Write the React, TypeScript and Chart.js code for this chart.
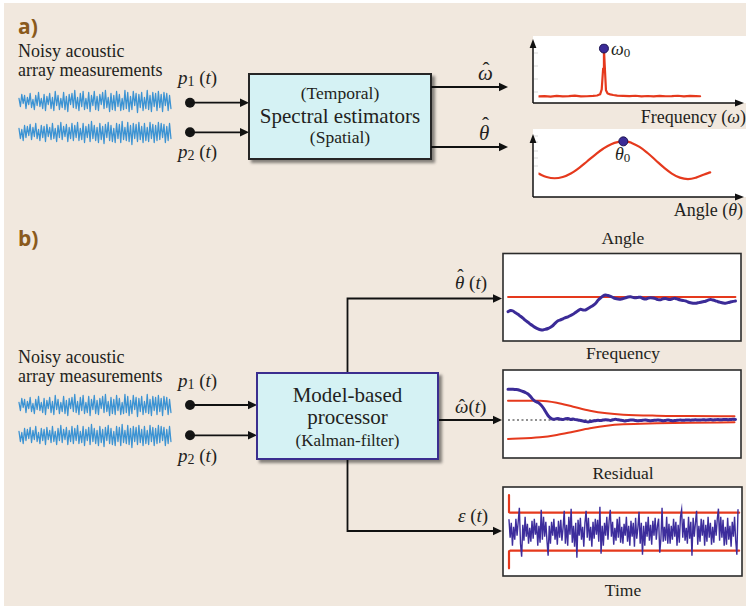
import React, { useEffect, useRef } from "react";
import { Chart, registerables } from "chart.js";

Chart.register(...registerables);

// ---------------- data ----------------

// Raw hydrophone pressure samples (arbitrary units), sensors 1 and 2
const pressureP1 = [
  3, -5, 7, -2, 6, -7, 4, -3, 8, -6,
  2, -8, 6, -4, 9, -5, 3, -7, 7, -9,
  5, -3, 8, -7, 4, -9, 10, -4, 6, -8,
  3, -6, 9, -8, 5, -10, 7, -3, 8, -6,
  11, -7, 4, -9, 8, -5, 10, -8, 3, -7,
  9, -10, 6, -4, 10, -8, 5, -9, 7, -3,
  9, -7, 11, -6, 4, -10, 8, -8, 6, -9,
  10, -5, 7, -9, 3, -8, 11, -7, 9, -10,
  5, -8, 10, -4, 8, -11, 7, -6, 9, -9,
  4, -7, 11, -8, 6, -10, 9, -5, 8, -9,
  10, -6, 7, -10, 9, -4, 8, -9, 6, -7,
];
const pressureP2 = [
  4, -6, 3, -8, 7, -5, 6, -3, 8, -7,
  5, -4, 9, -6, 3, -8, 7, -5, 6, -9,
  8, -4, 5, -7, 9, -6, 4, -9, 7, -5,
  10, -7, 6, -4, 8, -9, 5, -6, 9, -8,
  7, -5, 10, -8, 4, -7, 9, -10, 6, -5,
  8, -9, 11, -6, 7, -8, 5, -10, 9, -7,
  6, -11, 8, -5, 10, -8, 7, -9, 4, -10,
  9, -6, 8, -10, 11, -7, 5, -8, 10, -9,
  7, -12, 9, -6, 8, -9, 10, -7, 6, -10,
  9, -8, 5, -9, 10, -6, 8, -10, 7, -8,
  10, -7, 9, -5, 8, -10, 6, -8, 9, -6,
];

// Temporal power spectrum
const spectrumFreq = [
  0, 3, 6, 9, 12, 15, 18, 21, 24, 27, 29, 30.5, 31.3, 32, 32.4, 32.8, 33.4,
  34.2, 35.5, 37, 39, 42, 45, 48, 51, 54, 57, 60, 63, 66, 69, 72, 75, 78, 80,
];
const spectrumPower = [
  1.5, 1.8, 1.3, 2.2, 1.6, 1.9, 2.4, 1.5, 1.7, 2.1, 2.6, 4, 10, 35, 59, 38, 9,
  5, 4, 3.2, 2.5, 2.2, 1.8, 2.3, 1.6, 2, 1.5, 2.2, 1.7, 1.9, 2.3, 1.6, 2.1, 1.8,
  1.7,
];

// Spatial (beam) power versus steering angle
const beamAngle = [
  0, 4, 8, 12, 16, 20, 24, 28, 32, 36, 40, 42, 44, 46, 50, 54, 58, 62, 66, 70,
  74, 78, 82, 85,
];
const beamPower = [
  21.5, 17.5, 16, 17.5, 21.7, 28.2, 36, 44, 51.2, 56.7, 59.6, 60, 59.7, 58.3,
  53.4, 46.1, 37.5, 28.9, 21.6, 16.7, 15, 16.7, 20.5, 23,
];

// Kalman filter: bearing estimate against the true bearing
const angleTrue = 43;
const angleEstimate = [
  28.3, 29.5, 29, 27.2, 25.7, 23.7, 21.8, 19.6, 17.7, 15.7,
  14, 12.4, 11.1, 10.2, 10.1, 10.7, 11.5, 12.8, 14.5, 17.2,
  19.2, 20.2, 21.2, 22.4, 23.2, 24.5, 25.7, 27.5, 29.2, 30.7,
  30, 30, 31.5, 33, 34.5, 36.5, 39.7, 42, 44, 45,
  44.5, 43.7, 42.5, 41.5, 41, 40.8, 41.4, 42.2, 43, 43.2,
  42.6, 42.2, 42.6, 42.7, 41.5, 41, 41.8, 42.3, 42, 41.4,
  40.4, 40.2, 41.2, 41.6, 40.8, 40.6, 41.4, 41.6, 40.7, 40,
  39.5, 39.1, 38, 37.2, 36.8, 36.7, 37.2, 37.7, 38.3, 38.8,
  39.8, 40.6, 40, 39.2, 38.3, 37.6, 37, 36.7, 37.4, 38,
  38.6, 39,
];

// Kalman filter: frequency estimate with its confidence bounds
const freqTrue = 37;
const freqEstimate = [
  67.7, 67.7, 67.8, 67.5, 67.2, 66.4, 65.5, 64.4, 63, 60.5,
  57.5, 55.5, 54.5, 52.5, 49.5, 45.5, 41.5, 39, 37.7, 38,
  38.4, 37.8, 37.4, 38.2, 38.5, 37.6, 38, 37.4, 37, 36.5,
  36, 35.5, 35.1, 35.4, 36, 36.3, 36.7, 36.5, 36.9, 37.3,
  37.1, 36.6, 37.2, 37.7, 37.2, 36.8, 36.4, 36.1, 36.6, 36.9,
  37, 36.5, 36.2, 36.5, 36.8, 37, 36.6, 36.3, 36.5, 36.8,
  37, 36.7, 36.3, 36.6, 36.9, 36.5, 36.2, 36.6, 36.8, 37,
  36.7, 36.9, 37.1, 36.8, 37, 37.2, 36.9, 37, 37.3, 37,
  37.2, 37.4, 37.1, 37.3, 37.5, 37.2, 37.4, 37.6, 37.3, 37.5,
  37.7, 37.6,
];
const freqBoundTime = [0, 12.8, 19.5, 26.1, 32.8, 39.5, 46.1, 59.5, 72.8, 90.6];
const freqUpperBound = [56.3, 56.3, 54.3, 50.3, 46.3, 43.7, 42.3, 41.3, 41, 40.7];
const freqLowerBound = [18, 19.7, 22, 25.3, 28.7, 31.3, 32.7, 33.7, 34.3, 34.7];

// Innovation (residual) sequence with its confidence bounds
const residual = [
  12, -6, 9, -14, 5, -8, 13, -4, 10, 24,
  -12, -25, 7, -9, 15, -5, 8, -12, 4, -10,
  11, -7, 13, -3, 9, -14, 6, -11, 22, -8,
  15, -5, 10, -9, -24, 6, -12, 10, -4, 13,
  -8, 5, -13, 11, -6, 12, -9, 4, 21, -12,
  7, -14, 15, -3, 23, -11, 6, -15, 9, -26,
  12, -4, 14, -8, 5, -15, 9, 21, -6, 14,
  -9, 5, -15, 10, -7, 13, -3, 12, -10, 25,
  -22, 6, -14, 9, -4, 15, -8, 11, 22, -5,
  10, -13, 4, -9, 13, -6, 15, -11, 5, -12,
  8, -4, 15, -10, 6, -14, 11, -5, 9, -15,
  14, -7, 4, 20, -12, 9, -23, 6, -14, 10,
  -5, 15, -9, 7, -13, 11, -4, 14, -8, 6,
  13, -21, -7, 24, -10, 5, -9, 15, -12, 8,
  -12, 6, -8, 13, -5, 10, -14, 7, -11, 15,
  22, -6, 13, -9, 4, -12, 15, -7, 10, -24,
  14, -5, 9, 21, -13, 6, -10, 13, -4, 12,
  -14, 7, -10, 15, -6, 9, -13, 5, -11, 12,
  -4, 13, 23, -9, 15, -6, 12, -14, 5, -13,
  14, -8, 6, -15, 10, -5, 15, -9, -23, 22,
];
const residualBoundTime = [0, 0, 1, 200];
const residualUpper = [36.7, 19.5, 19, 19];
const residualLower = [-36.6, -19.5, -19, -19];

// ---------------- chart helpers ----------------

const RED = "#e5391d";
const INDIGO = "#3b2b97";
const SKY = "#3c93d3";
const INK = "#231f20";
const SERIF = '"Liberation Serif", "Times New Roman", Times, "DejaVu Serif", serif';
const SANS = '"Open Sans", "Liberation Sans", sans-serif';

type Pt = { x: number; y: number };
const zipPts = (xs: number[], ys: number[]): Pt[] => xs.map((x, i) => ({ x, y: ys[i] }));
const indexPts = (ys: number[]): Pt[] => ys.map((y, i) => ({ x: i, y }));
const flat = (value: number, from: number, to: number): Pt[] => [
  { x: from, y: value },
  { x: to, y: value },
];

function lineSet(data: Pt[], color: string, width: number, extra: any = {}) {
  return {
    data,
    borderColor: color,
    backgroundColor: color,
    borderWidth: width,
    pointRadius: 0,
    fill: false,
    tension: 0,
    borderJoinStyle: "round",
    borderCapStyle: "round",
    ...extra,
  };
}

function miniConfig(datasets: any[], x: [number, number], y: [number, number]): any {
  return {
    type: "line",
    data: { datasets },
    options: {
      responsive: false,
      maintainAspectRatio: false,
      animation: false,
      devicePixelRatio: 1,
      events: [],
      layout: { padding: 0 },
      plugins: { legend: { display: false }, tooltip: { enabled: false } },
      scales: {
        x: { type: "linear", display: false, min: x[0], max: x[1] },
        y: { type: "linear", display: false, min: y[0], max: y[1] },
      },
    },
  };
}

type Place = { left: number; top: number; width: number; height: number };

function MiniChart({ place, make }: { place: Place; make: () => any }) {
  const ref = useRef<HTMLCanvasElement | null>(null);
  useEffect(() => {
    if (!ref.current) return;
    const chart = new Chart(ref.current, make());
    return () => chart.destroy();
  }, []);
  return (
    <canvas
      ref={ref}
      width={place.width}
      height={place.height}
      style={{
        position: "absolute",
        left: place.left,
        top: place.top,
        width: place.width,
        height: place.height,
      }}
    />
  );
}

const peakDot = (x: number, y: number) =>
  lineSet([{ x, y }], INDIGO, 0, {
    showLine: false,
    pointRadius: 4.5,
    pointBackgroundColor: INDIGO,
    pointBorderColor: "#1d1450",
    pointBorderWidth: 1,
  });

// chart builders
const waveform = (samples: number[]) => () =>
  miniConfig([lineSet(indexPts(samples), SKY, 1.3)], [-0.72, 111.2], [-13.5, 13.5]);

const spectrumChart = () => {
  const peak = spectrumPower.indexOf(Math.max(...spectrumPower));
  return miniConfig(
    [
      peakDot(spectrumFreq[peak], spectrumPower[peak]),
      lineSet(zipPts(spectrumFreq, spectrumPower), RED, 2.2),
    ],
    [0, 100],
    [-1, 65]
  );
};

const beamChart = () => {
  const peak = beamPower.indexOf(Math.max(...beamPower));
  return miniConfig(
    [
      peakDot(beamAngle[peak], beamPower[peak]),
      lineSet(zipPts(beamAngle, beamPower), RED, 2.2, { tension: 0.4 }),
    ],
    [0, 100],
    [-1, 67]
  );
};

const angleChart = () =>
  miniConfig(
    [
      lineSet(indexPts(angleEstimate), INDIGO, 3, { tension: 0.3 }),
      lineSet(flat(angleTrue, 0, angleEstimate.length - 1), RED, 1.8),
    ],
    [-1.6, 92.8],
    [0, 85]
  );

const freqChart = () =>
  miniConfig(
    [
      lineSet(indexPts(freqEstimate), INDIGO, 3, { tension: 0.3 }),
      lineSet(flat(freqTrue, 0, freqEstimate.length - 1), "#222", 1.2, {
        borderDash: [2, 2.5],
        borderCapStyle: "butt",
      }),
      lineSet(zipPts(freqBoundTime, freqUpperBound), RED, 2, { cubicInterpolationMode: "monotone" }),
      lineSet(zipPts(freqBoundTime, freqLowerBound), RED, 2, { cubicInterpolationMode: "monotone" }),
    ],
    [-1.6, 92.8],
    [0, 86]
  );

const residualChart = () =>
  miniConfig(
    [
      lineSet(indexPts(residual), "#3d2d9c", 1.4, { borderJoinStyle: "miter" }),
      lineSet(zipPts(residualBoundTime, residualUpper), RED, 2.2),
      lineSet(zipPts(residualBoundTime, residualLower), RED, 2.2),
    ],
    [-4.34, 201.6],
    [-43.3, 42.7]
  );

// ---------------- diagram pieces ----------------

const head = (x: number, y: number) => `${x},${y} ${x - 9},${y - 4.2} ${x - 9},${y + 4.2}`;

function Arrow({ x1, x2, y }: { x1: number; x2: number; y: number }) {
  return (
    <g>
      <line x1={x1} y1={y} x2={x2 - 7} y2={y} stroke="#111" strokeWidth={1.8} />
      <polygon points={head(x2, y)} fill="#111" />
    </g>
  );
}

function PLabel({ x, y, n }: { x: number; y: number; n: string }) {
  return (
    <text x={x} y={y} fontSize={19} fill={INK}>
      <tspan fontStyle="italic">p</tspan>
      <tspan fontSize={14} dy={2}>{n}</tspan>
      <tspan dy={-2}> (</tspan>
      <tspan fontStyle="italic">t</tspan>
      <tspan>)</tspan>
    </text>
  );
}

// circumflex accent set over an estimate symbol
function Hat({ x, y, size }: { x: number; y: number; size: number }) {
  return (
    <text x={x} y={y} fontSize={size} fill={INK} textAnchor="middle">
      {"\u02c6"}
    </text>
  );
}

function Caption({ x, y, text }: { x: number; y: number; text: string }) {
  return (
    <text x={x} y={y} fontSize={17.5} fill={INK} textAnchor="middle">
      {text}
    </text>
  );
}

function Diagram() {
  const tickColor = "#d9d9d9";
  return (
    <svg width={749} height={609} style={{ position: "absolute", left: 0, top: 0, fontFamily: SERIF }}>
      <defs>
        <filter id="drop" x="-10%" y="-10%" width="130%" height="140%">
          <feDropShadow dx="3" dy="3" stdDeviation="1.6" floodColor="#000" floodOpacity="0.45" />
        </filter>
      </defs>
      <rect x={4} y={3} width={742} height={603} fill="#f1e8de" />

      {/* ---------- a) spectral estimation ---------- */}
      <text x={18} y={34} style={{ fontFamily: SANS }} fontWeight={700} fontSize={21} fill="#8a5a1c">
        a)
      </text>
      <text x={18} y={57} fontSize={18} fill={INK}>Noisy acoustic</text>
      <text x={18} y={75.5} fontSize={18} fill={INK}>array measurements</text>

      <PLabel x={178} y={84} n="1" />
      <PLabel x={178} y={158} n="2" />
      <circle cx={190} cy={102.7} r={5} fill="#151515" />
      <circle cx={190} cy={132.3} r={5} fill="#151515" />
      <Arrow x1={190} x2={249} y={102.7} />
      <Arrow x1={190} x2={249} y={132.3} />

      <rect x={249} y={74} width={182} height={85} fill="#d5f2f4" stroke="#262626" strokeWidth={2} filter="url(#drop)" />
      <text x={340} y={98.5} fontSize={17.5} fill={INK} textAnchor="middle">(Temporal)</text>
      <text x={340} y={122.5} fontSize={21} fill={INK} textAnchor="middle">Spectral estimators</text>
      <text x={340} y={143} fontSize={17.5} fill={INK} textAnchor="middle">(Spatial)</text>

      <Arrow x1={431} x2={508} y={87} />
      <Arrow x1={431} x2={508} y={147} />
      <text x={478} y={80} fontSize={21} fontStyle="italic" fill={INK}>{"\u03c9"}</text>
      <Hat x={486} y={76.5} size={21} />
      <text x={479} y={139.5} fontSize={21} fontStyle="italic" fill={INK}>{"\u03b8"}</text>
      <Hat x={485.5} y={131.5} size={21} />

      {/* spectrum panel */}
      <rect x={533} y={36} width={213} height={67} fill="#fff" />
      {[53, 66, 79, 92].map((y) => (
        <line key={y} x1={534} y1={y} x2={538} y2={y} stroke={tickColor} strokeWidth={1} />
      ))}
      <line x1={533} y1={103} x2={533} y2={46} stroke="#111" strokeWidth={1.5} />
      <polygon points="533,39 529.6,48 536.4,48" fill="#111" />
      <line x1={533} y1={103} x2={737} y2={103} stroke="#111" strokeWidth={1.5} />
      <polygon points="744,103 735,99.6 735,106.4" fill="#111" />
      <text x={611} y={55} fontSize={18} fill={INK}>
        <tspan fontStyle="italic">{"\u03c9"}</tspan>
        <tspan fontSize={13} dy={2}>0</tspan>
      </text>
      <text x={746} y={123} fontSize={18} fill={INK} textAnchor="end">
        Frequency (<tspan fontStyle="italic">{"\u03c9"}</tspan>)
      </text>

      {/* beam-pattern panel */}
      <rect x={533} y={129} width={213} height={68} fill="#fff" />
      {[136, 142, 151, 158, 166].map((y) => (
        <line key={y} x1={534} y1={y} x2={538} y2={y} stroke={tickColor} strokeWidth={1} />
      ))}
      <line x1={533} y1={197} x2={533} y2={141} stroke="#111" strokeWidth={1.5} />
      <polygon points="533,134 529.6,143 536.4,143" fill="#111" />
      <line x1={533} y1={197} x2={737} y2={197} stroke="#111" strokeWidth={1.5} />
      <polygon points="744,197 735,193.6 735,200.4" fill="#111" />
      <text x={615} y={160} fontSize={18} fill={INK}>
        <tspan fontStyle="italic">{"\u03b8"}</tspan>
        <tspan fontSize={13} dy={2}>0</tspan>
      </text>
      <text x={743} y={216} fontSize={18} fill={INK} textAnchor="end">
        Angle (<tspan fontStyle="italic">{"\u03b8"}</tspan>)
      </text>

      {/* ---------- b) model-based processing ---------- */}
      <text x={18} y={246} style={{ fontFamily: SANS }} fontWeight={700} fontSize={21} fill="#8a5a1c">
        b)
      </text>
      <text x={18} y={363} fontSize={18} fill={INK}>Noisy acoustic</text>
      <text x={18} y={381.5} fontSize={18} fill={INK}>array measurements</text>

      <PLabel x={178} y={387} n="1" />
      <PLabel x={178} y={462} n="2" />
      <circle cx={190} cy={405} r={5} fill="#151515" />
      <circle cx={190} cy={435.3} r={5} fill="#151515" />
      <Arrow x1={190} x2={257} y={405} />
      <Arrow x1={190} x2={257} y={435.3} />

      {/* branches to the three output panels */}
      <polyline points="347.5,373 347.5,298.5 495,298.5" fill="none" stroke="#111" strokeWidth={1.8} />
      <polygon points={head(502, 298.5)} fill="#111" />
      <polyline points="347.5,459 347.5,531 495,531" fill="none" stroke="#111" strokeWidth={1.8} />
      <polygon points={head(502, 531)} fill="#111" />
      <Arrow x1={438} x2={502} y={420} />

      <rect x={257} y={373} width={181} height={86} fill="#d5f2f4" stroke="#3b2f8f" strokeWidth={2} filter="url(#drop)" />
      <text x={347.5} y={402} fontSize={21} fill={INK} textAnchor="middle">Model-based</text>
      <text x={347.5} y={424} fontSize={21} fill={INK} textAnchor="middle">processor</text>
      <text x={347.5} y={446} fontSize={17} fill={INK} textAnchor="middle">(Kalman-filter)</text>

      <text x={455} y={288.5} fontSize={19} fill={INK}>
        <tspan fontStyle="italic">{"\u03b8"}</tspan>
        <tspan> (</tspan>
        <tspan fontStyle="italic">t</tspan>
        <tspan>)</tspan>
      </text>
      <Hat x={460.5} y={282} size={19} />
      <text x={455} y={412.5} fontSize={19} fill={INK}>
        <tspan fontStyle="italic">{"\u03c9"}</tspan>
        <tspan>(</tspan>
        <tspan fontStyle="italic">t</tspan>
        <tspan>)</tspan>
      </text>
      <Hat x={462} y={411.5} size={19} />
      <text x={458} y={522} fontSize={19} fill={INK}>
        <tspan fontStyle="italic">{"\u03b5"}</tspan>
        <tspan> (</tspan>
        <tspan fontStyle="italic">t</tspan>
        <tspan>)</tspan>
      </text>

      {/* output panels */}
      <Caption x={623} y={244} text="Angle" />
      <rect x={503} y={253.5} width={238} height={87.5} fill="#fff" stroke="#2b2b2b" strokeWidth={1.6} />
      <Caption x={623} y={358.5} text="Frequency" />
      <rect x={503} y={370} width={238} height={88} fill="#fff" stroke="#2b2b2b" strokeWidth={1.6} />
      <Caption x={623} y={479} text="Residual" />
      <rect x={503} y={487} width={239} height={89} fill="#fff" stroke="#2b2b2b" strokeWidth={1.6} />
      <Caption x={623} y={596} text="Time" />
    </svg>
  );
}

export default function App() {
  return (
    <div
      style={{
        position: "absolute",
        left: 0,
        top: 0,
        width: 749,
        height: 609,
        background: "#ffffff",
        overflow: "hidden",
      }}
    >
      <Diagram />
      <MiniChart place={{ left: 18, top: 88, width: 156, height: 27 }} make={waveform(pressureP1)} />
      <MiniChart place={{ left: 18, top: 119, width: 156, height: 27 }} make={waveform(pressureP2)} />
      <MiniChart place={{ left: 18, top: 392, width: 156, height: 27 }} make={waveform(pressureP1)} />
      <MiniChart place={{ left: 18, top: 422, width: 156, height: 27 }} make={waveform(pressureP2)} />
      <MiniChart place={{ left: 533, top: 38, width: 213, height: 66 }} make={spectrumChart} />
      <MiniChart place={{ left: 533, top: 130, width: 213, height: 68 }} make={beamChart} />
      <MiniChart place={{ left: 504, top: 255, width: 236, height: 85 }} make={angleChart} />
      <MiniChart place={{ left: 504, top: 371, width: 236, height: 86 }} make={freqChart} />
      <MiniChart place={{ left: 504, top: 489, width: 237, height: 86 }} make={residualChart} />
    </div>
  );
}
